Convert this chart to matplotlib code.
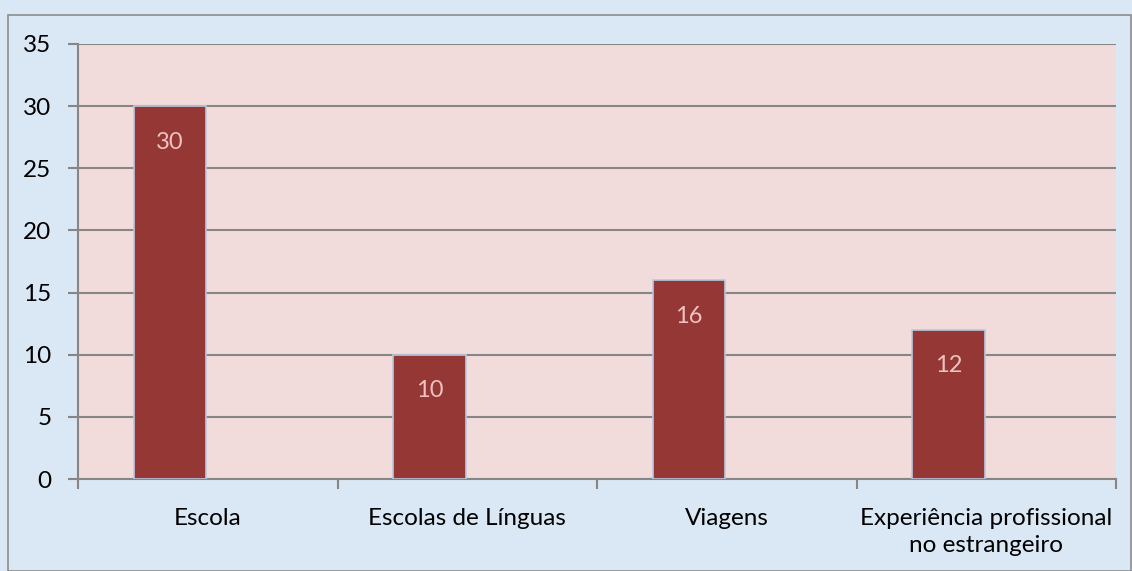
import matplotlib.pyplot as plt
from matplotlib.patches import Rectangle

categories = ['Escola', 'Escolas de Línguas', 'Viagens',
              'Experiência profissional\nno estrangeiro']
values = [30, 10, 16, 12]
yticks = [0, 5, 10, 15, 20, 25, 30, 35]

plt.rcParams['font.family'] = ['Lato', 'DejaVu Sans']

W, H = 1132, 571
fig = plt.figure(figsize=(W / 100, H / 100), dpi=100)
fig.patch.set_facecolor('#dae7f4')

# outer chart border
fig.patches.append(Rectangle((8 / W, 0), (W - 9) / W, 1 - 15 / H, transform=fig.transFigure,
                             fill=False, edgecolor='#8c8c8c', lw=1.2, zorder=0))

ax = fig.add_axes([78 / W, 1 - 479 / H, (1116 - 78) / W, (479 - 44) / H])
ax.set_facecolor('#f2dcdb')

# bars sit left of the category centre (empty second series slot in the original)
x = [i - 0.146 for i in range(len(values))]
bars = ax.bar(x, values, width=0.28, color='#953735', edgecolor='#b9c9e0', lw=1.2, zorder=3)
for b, v in zip(bars, values):
    ax.annotate(str(v), (b.get_x() + b.get_width() / 2, v), xytext=(0, -26),
                textcoords='offset points', ha='center', va='center',
                color='#eec3c1', fontsize=17, zorder=4)

ax.set_xlim(-0.5, len(values) - 0.5)
ax.set_ylim(0, 35)
ax.set_yticks(yticks)
ax.yaxis.grid(True, color='#868686', lw=1.5, zorder=1)
ax.set_axisbelow(True)

ax.set_xticks([i - 0.5 for i in range(len(values) + 1)])
ax.set_xticklabels([])
ax.set_xticks(range(len(values)), minor=True)
ax.set_xticklabels(categories, minor=True, fontsize=17.5, linespacing=1.35)
ax.tick_params(axis='x', which='minor', length=0, pad=21)
ax.tick_params(axis='x', which='major', length=7, color='#868686', width=1.5)
ax.tick_params(axis='y', length=7, color='#868686', width=1.5, labelsize=17.5, pad=12)

for s in ['top', 'right']:
    ax.spines[s].set_visible(False)
for s in ['left', 'bottom']:
    ax.spines[s].set_color('#868686')
    ax.spines[s].set_linewidth(1.5)

plt.savefig('out.png', dpi=100, facecolor=fig.get_facecolor())
